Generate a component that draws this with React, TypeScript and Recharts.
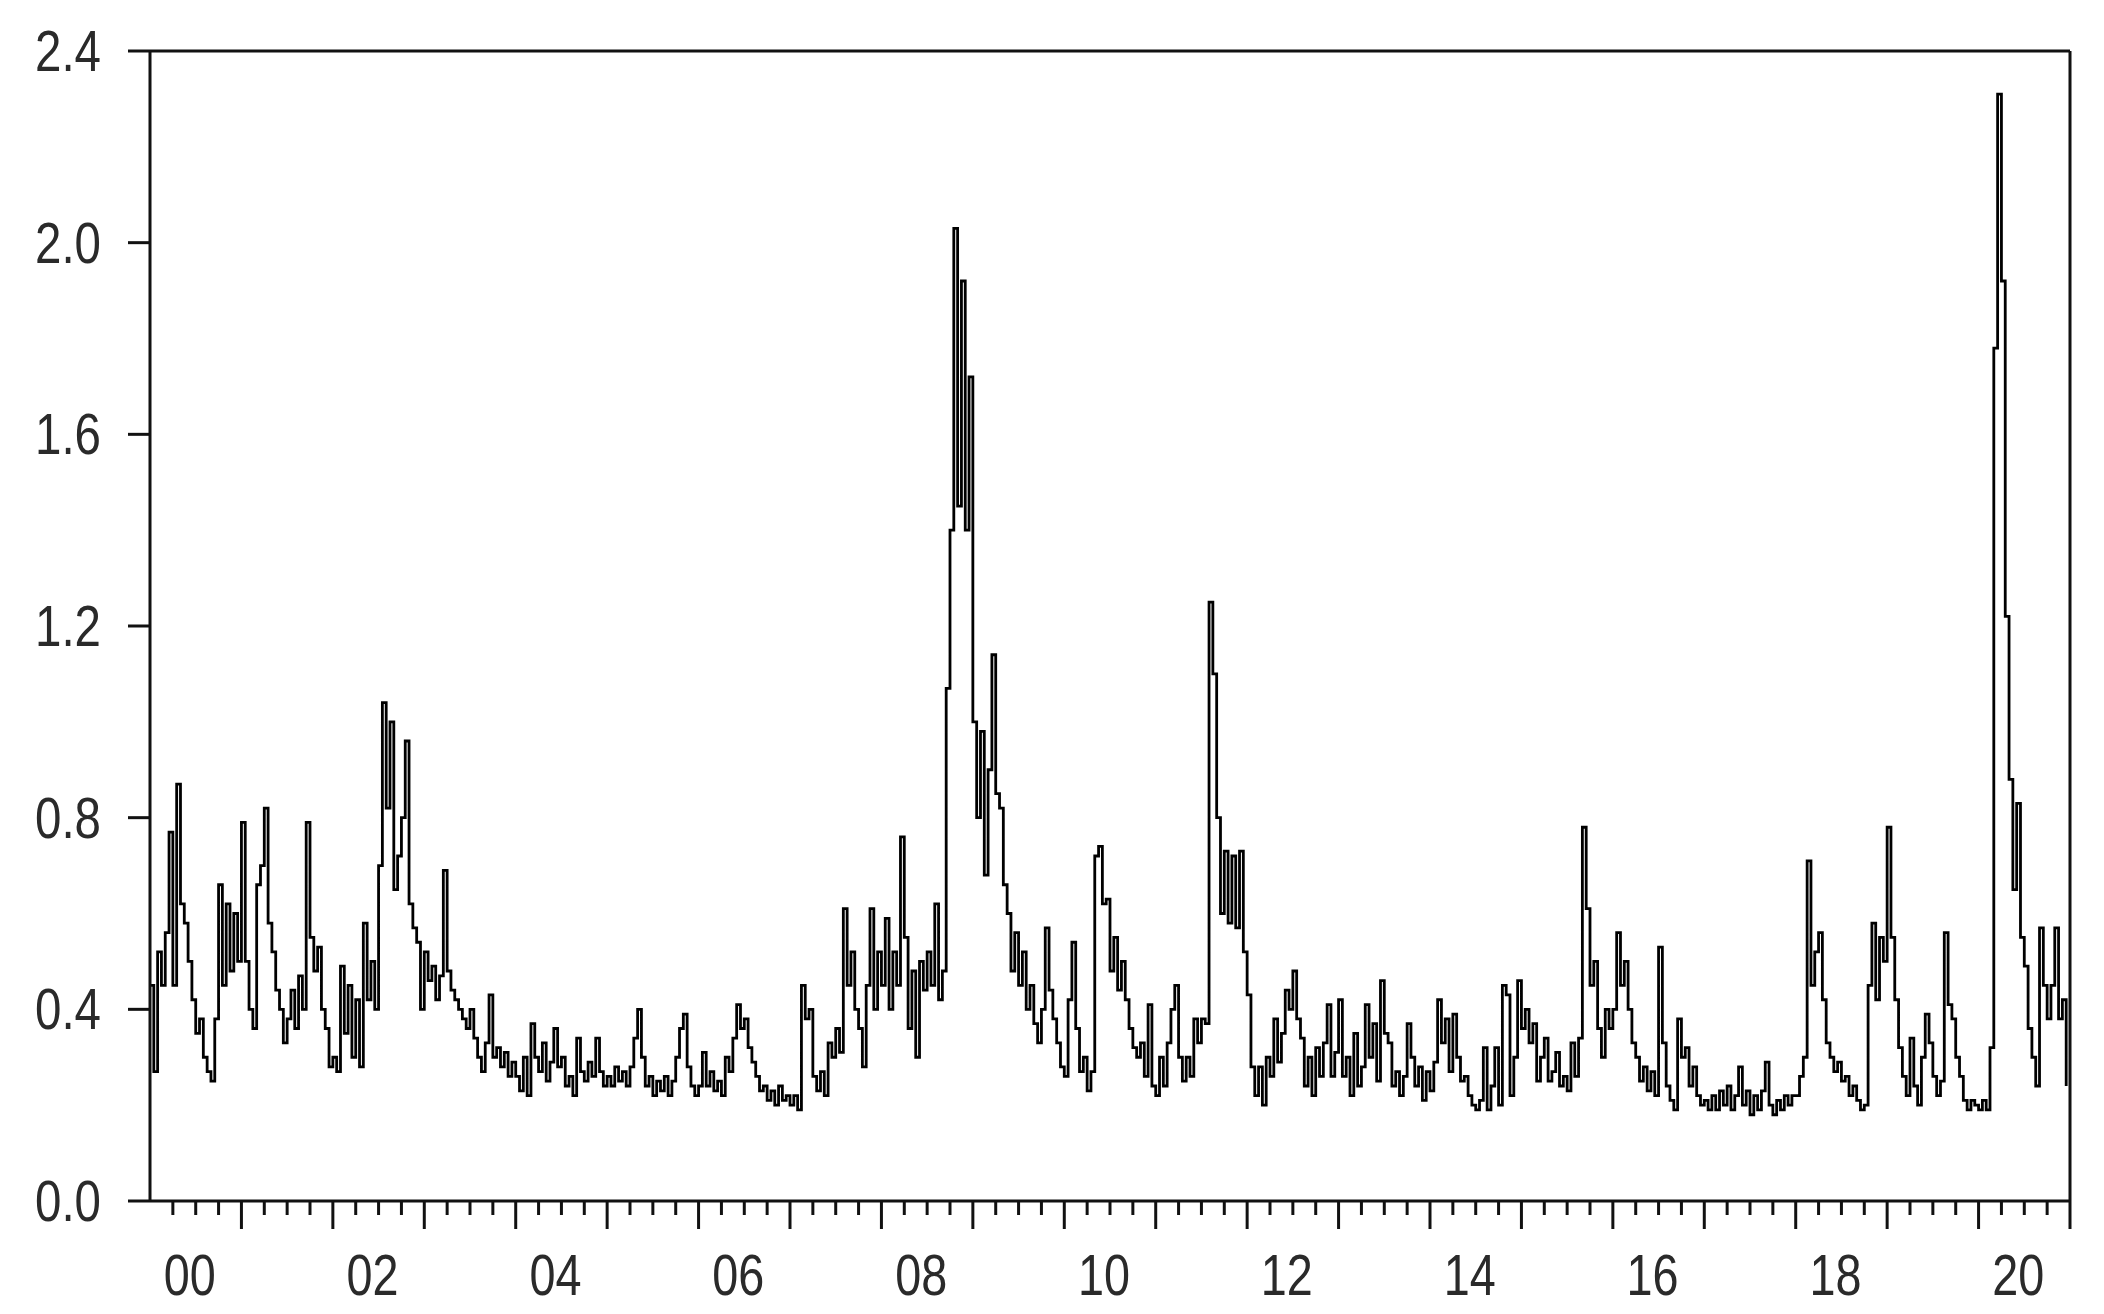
import { LineChart, Line, XAxis, YAxis, ReferenceLine } from "recharts";

// values, two per month (Jan 1st half, Jan 2nd half, ...)
const v2000 = [0.45, 0.27, 0.52, 0.45, 0.56, 0.77, 0.45, 0.87, 0.62, 0.58, 0.5, 0.42, 0.35, 0.38, 0.3, 0.27, 0.25, 0.38, 0.66, 0.45, 0.62, 0.48, 0.6, 0.5];
const v2001 = [0.79, 0.5, 0.4, 0.36, 0.66, 0.7, 0.82, 0.58, 0.52, 0.44, 0.4, 0.33, 0.38, 0.44, 0.36, 0.47, 0.4, 0.79, 0.55, 0.48, 0.53, 0.4, 0.36, 0.28];
const v2002 = [0.3, 0.27, 0.49, 0.35, 0.45, 0.3, 0.42, 0.28, 0.58, 0.42, 0.5, 0.4, 0.7, 1.04, 0.82, 1.0, 0.65, 0.72, 0.8, 0.96, 0.62, 0.57, 0.54, 0.4];
const v2003 = [0.52, 0.46, 0.49, 0.42, 0.47, 0.69, 0.48, 0.44, 0.42, 0.4, 0.38, 0.36, 0.4, 0.34, 0.3, 0.27, 0.33, 0.43, 0.3, 0.32, 0.28, 0.31, 0.26, 0.29];
const v2004 = [0.26, 0.23, 0.3, 0.22, 0.37, 0.3, 0.27, 0.33, 0.25, 0.29, 0.36, 0.28, 0.3, 0.24, 0.26, 0.22, 0.34, 0.27, 0.25, 0.29, 0.26, 0.34, 0.27, 0.24];
const v2005 = [0.26, 0.24, 0.28, 0.25, 0.27, 0.24, 0.28, 0.34, 0.4, 0.3, 0.24, 0.26, 0.22, 0.25, 0.23, 0.26, 0.22, 0.25, 0.3, 0.36, 0.39, 0.28, 0.24, 0.22];
const v2006 = [0.24, 0.31, 0.24, 0.27, 0.23, 0.25, 0.22, 0.3, 0.27, 0.34, 0.41, 0.36, 0.38, 0.32, 0.29, 0.26, 0.23, 0.24, 0.21, 0.23, 0.2, 0.24, 0.21, 0.22];
const v2007 = [0.2, 0.22, 0.19, 0.45, 0.38, 0.4, 0.26, 0.23, 0.27, 0.22, 0.33, 0.3, 0.36, 0.31, 0.61, 0.45, 0.52, 0.4, 0.36, 0.28, 0.45, 0.61, 0.4, 0.52];
const v2008 = [0.45, 0.59, 0.4, 0.52, 0.45, 0.76, 0.55, 0.36, 0.48, 0.3, 0.5, 0.44, 0.52, 0.45, 0.62, 0.42, 0.48, 1.07, 1.4, 2.03, 1.45, 1.92, 1.4, 1.72];
const v2009 = [1.0, 0.8, 0.98, 0.68, 0.9, 1.14, 0.85, 0.82, 0.66, 0.6, 0.48, 0.56, 0.45, 0.52, 0.4, 0.45, 0.37, 0.33, 0.4, 0.57, 0.44, 0.38, 0.33, 0.28];
const v2010 = [0.26, 0.42, 0.54, 0.36, 0.27, 0.3, 0.23, 0.27, 0.72, 0.74, 0.62, 0.63, 0.48, 0.55, 0.44, 0.5, 0.42, 0.36, 0.32, 0.3, 0.33, 0.26, 0.41, 0.24];
const v2011 = [0.22, 0.3, 0.24, 0.33, 0.4, 0.45, 0.3, 0.25, 0.3, 0.26, 0.38, 0.33, 0.38, 0.37, 1.25, 1.1, 0.8, 0.6, 0.73, 0.58, 0.72, 0.57, 0.73, 0.52];
const v2012 = [0.43, 0.28, 0.22, 0.28, 0.2, 0.3, 0.26, 0.38, 0.29, 0.35, 0.44, 0.4, 0.48, 0.38, 0.34, 0.24, 0.3, 0.22, 0.32, 0.26, 0.33, 0.41, 0.26, 0.31];
const v2013 = [0.42, 0.26, 0.3, 0.22, 0.35, 0.24, 0.28, 0.41, 0.3, 0.37, 0.25, 0.46, 0.35, 0.33, 0.24, 0.27, 0.22, 0.26, 0.37, 0.3, 0.24, 0.28, 0.21, 0.27];
const v2014 = [0.23, 0.29, 0.42, 0.33, 0.38, 0.27, 0.39, 0.3, 0.25, 0.26, 0.22, 0.2, 0.19, 0.21, 0.32, 0.19, 0.24, 0.32, 0.2, 0.45, 0.43, 0.22, 0.3, 0.46];
const v2015 = [0.36, 0.4, 0.33, 0.37, 0.25, 0.3, 0.34, 0.25, 0.27, 0.31, 0.24, 0.26, 0.23, 0.33, 0.26, 0.34, 0.78, 0.61, 0.45, 0.5, 0.36, 0.3, 0.4, 0.36];
const v2016 = [0.4, 0.56, 0.45, 0.5, 0.4, 0.33, 0.3, 0.25, 0.28, 0.23, 0.27, 0.22, 0.53, 0.33, 0.24, 0.21, 0.19, 0.38, 0.3, 0.32, 0.24, 0.28, 0.22, 0.2];
const v2017 = [0.21, 0.19, 0.22, 0.19, 0.23, 0.2, 0.24, 0.19, 0.22, 0.28, 0.2, 0.23, 0.18, 0.22, 0.19, 0.23, 0.29, 0.2, 0.18, 0.21, 0.19, 0.22, 0.2, 0.22];
const v2018 = [0.22, 0.26, 0.3, 0.71, 0.45, 0.52, 0.56, 0.42, 0.33, 0.3, 0.27, 0.29, 0.25, 0.26, 0.22, 0.24, 0.21, 0.19, 0.2, 0.45, 0.58, 0.42, 0.55, 0.5];
const v2019 = [0.78, 0.55, 0.42, 0.32, 0.26, 0.22, 0.34, 0.24, 0.2, 0.3, 0.39, 0.33, 0.26, 0.22, 0.25, 0.56, 0.41, 0.38, 0.3, 0.26, 0.21, 0.19, 0.21, 0.2];
const v2020 = [0.19, 0.21, 0.19, 0.32, 1.78, 2.31, 1.92, 1.22, 0.88, 0.65, 0.83, 0.55, 0.49, 0.36, 0.3, 0.24, 0.57, 0.45, 0.38, 0.45, 0.57, 0.38, 0.42, 0.24];

const years = [
  2000, 2001, 2002, 2003, 2004, 2005, 2006, 2007, 2008, 2009, 2010,
  2011, 2012, 2013, 2014, 2015, 2016, 2017, 2018, 2019, 2020,
];
const yearValues = [
  v2000, v2001, v2002, v2003, v2004, v2005, v2006, v2007, v2008, v2009, v2010,
  v2011, v2012, v2013, v2014, v2015, v2016, v2017, v2018, v2019, v2020,
];

const yTicks = [0, 0.4, 0.8, 1.2, 1.6, 2.0, 2.4];
const labelYears = [2000, 2002, 2004, 2006, 2008, 2010, 2012, 2014, 2016, 2018, 2020];
const yearLabels = ["00", "02", "04", "06", "08", "10", "12", "14", "16", "18", "20"];

const data = years.flatMap((yr, k) =>
  yearValues[k].map((v, i) => ({ t: yr + i / 24, v }))
);

// quarter ticks, the year ones drawn long
const xTicks = years.flatMap((yr) => [yr + 0.25, yr + 0.5, yr + 0.75, yr + 1]);

const INK = "#111";
const FONT = "'Liberation Sans Narrow', 'Liberation Sans', Arial, sans-serif";

function XTick({ x, y, payload }: any) {
  const val = payload.value;
  const yr = Math.floor(val + 1e-6);
  const frac = val - yr;
  const isYear = frac < 1e-6;
  const idx = labelYears.indexOf(yr);
  const showLabel = Math.abs(frac - 0.5) < 1e-6 && idx >= 0;
  return (
    <g>
      <line x1={x} x2={x} y1={y} y2={y + (isYear ? 28 : 14)} stroke={INK} strokeWidth={3} />
      {showLabel && (
        <text
          x={x - 6}
          y={y + 74}
          textAnchor="middle"
          dominantBaseline="central"
          fontSize={57}
          fontFamily={FONT}
          fill="#2a2a2a"
          textLength={52}
          lengthAdjust="spacingAndGlyphs"
        >
          {yearLabels[idx]}
        </text>
      )}
    </g>
  );
}

function YTick({ x, y, payload }: any) {
  return (
    <g>
      <line x1={x - 22} x2={x} y1={y} y2={y} stroke={INK} strokeWidth={3} />
      <text
        x={x - 49}
        y={y}
        textAnchor="end"
        dominantBaseline="central"
        fontSize={57}
        fontFamily={FONT}
        fill="#2a2a2a"
        textLength={66}
        lengthAdjust="spacingAndGlyphs"
      >
        {payload.value.toFixed(1)}
      </text>
    </g>
  );
}

export default function App() {
  return (
    <div style={{ width: 2088, height: 1298, background: "#fff" }}>
      <LineChart
        width={2088}
        height={1298}
        data={data}
        margin={{ top: 43, right: 26, bottom: 0, left: 0 }}
      >
        <XAxis
          dataKey="t"
          type="number"
          domain={[2000, 2021]}
          ticks={xTicks}
          interval={0}
          height={105}
          axisLine={{ stroke: INK, strokeWidth: 3 }}
          tickLine={false}
          tickSize={0}
          tickMargin={0}
          tick={<XTick />}
        />
        <YAxis
          domain={[0, 2.4]}
          ticks={yTicks}
          interval={0}
          width={142}
          axisLine={{ stroke: INK, strokeWidth: 3 }}
          tickLine={false}
          tickSize={0}
          tickMargin={0}
          tick={<YTick />}
        />
        <ReferenceLine y={2.4} stroke={INK} strokeWidth={3} />
        <ReferenceLine x={2021} stroke={INK} strokeWidth={3} />
        <Line
          type="stepAfter"
          dataKey="v"
          stroke="#000"
          strokeWidth={2.8}
          dot={false}
          isAnimationActive={false}
        />
      </LineChart>
    </div>
  );
}
